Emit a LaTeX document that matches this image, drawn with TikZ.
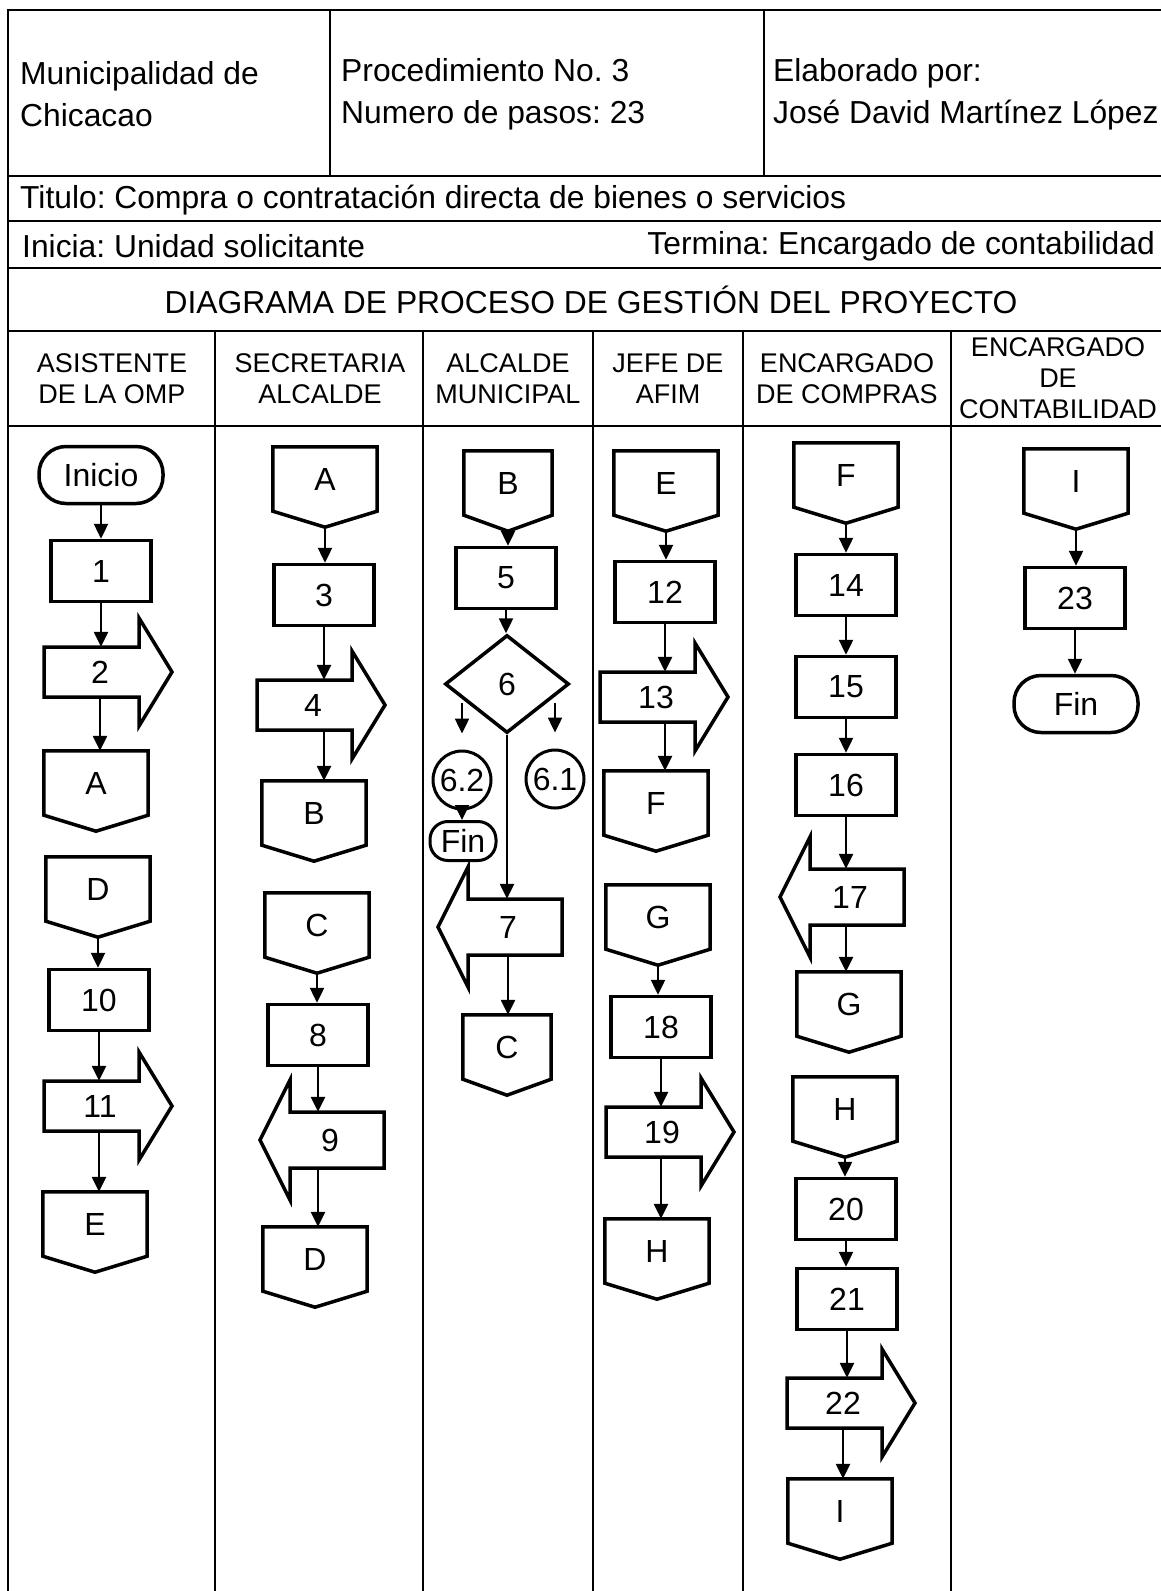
\documentclass[tikz,border=0pt]{standalone}
\usepackage{fontspec}
\setmainfont{Liberation Sans}
\usepackage{tikz}
\usetikzlibrary{arrows.meta}
\usetikzlibrary{shapes.geometric}
\frenchspacing
\def\conh{64}
\def\conp{16}
\def\fnt{\fontsize{32}{38}\selectfont}

% conector fuera de pagina: [ancho] nombre, x, y superior, letra
\newcommand{\conector}[5][104pt]{%
  \node[conbox, minimum width=#1] (#2) at (#3,{#4+\conh/2}) {#5};
  \draw[forma] (#2.north west) -- (#2.north east) -- (#2.south east)
    -- ([yshift=-\conp pt]#2.south) -- (#2.south west) -- cycle;
  \coordinate (#2-p) at ([yshift=-\conp pt]#2.south);
}
% flecha de bloque a la derecha: nombre, x, y, texto
\newcommand{\flechader}[4]{%
  \draw[forma] ({#2-56},{#3-25}) -- ({#2+39},{#3-25}) -- ({#2+39},{#3-54})
    -- ({#2+72},#3) -- ({#2+39},{#3+54}) -- ({#2+39},{#3+25})
    -- ({#2-56},{#3+25}) -- cycle;
  \node[cuerpo] (#1) at (#2,#3) {#4};
}
% flecha de bloque a la izquierda
\newcommand{\flechaizq}[4]{%
  \draw[forma] ({#2+54},{#3-28}) -- ({#2-40},{#3-28}) -- ({#2-40},{#3-60})
    -- ({#2-70},#3) -- ({#2-40},{#3+60}) -- ({#2-40},{#3+28})
    -- ({#2+54},{#3+28}) -- cycle;
  \node[cuerpoizq] (#1) at (#2,#3) {#4};
}

\begin{document}
\begin{tikzpicture}[x=1pt, y=-1pt,
    tabla/.style={line width=2.6pt},
    forma/.style={draw, line width=3.5pt, line join=miter},
    flujo/.style={line width=2.4pt, -{Triangle[length=15pt,width=14pt]}},
    paso/.style={draw, line width=3.5pt, minimum width=100pt, minimum height=61pt, inner sep=0pt, font=\fnt},
    terminal/.style={paso, rounded corners=27pt, minimum width=124pt, minimum height=57pt},
    conbox/.style={minimum height=\conh pt, inner sep=0pt, font=\fnt},
    cuerpo/.style={minimum width=80pt, minimum height=50pt, inner sep=0pt, font=\fnt},
    cuerpoizq/.style={cuerpo, minimum height=56pt},
    decision/.style={diamond, draw, line width=3.5pt, minimum width=124pt, minimum height=98pt, inner sep=0pt, font=\fnt},
    circulo/.style={circle, draw, line width=3pt, minimum size=58pt, inner sep=0pt, font=\fnt},
    finchico/.style={draw, line width=3pt, rounded corners=18pt, minimum width=66pt, minimum height=39pt, inner sep=0pt, font=\fnt},
    encabezado/.style={anchor=west, align=left, inner sep=0pt, font=\fontsize{31.8}{42}\selectfont},
    columna/.style={align=center, inner sep=0pt, font=\fontsize{27}{31}\selectfont}]
  \useasboundingbox (0,0) rectangle (1161,1591);

  % tabla
  \draw[tabla] (1161,10) -- (8,10) -- (8,1591);
  \draw[tabla] (330,10) -- (330,176);
  \draw[tabla] (764,10) -- (764,176);
  \foreach \y in {176,221,268,331,426}
    \draw[tabla] (8,\y) -- (1161,\y);
  \foreach \x in {215,423,593,743,951}
    \draw[tabla] (\x,331) -- (\x,1591);

  \node[encabezado] (muni) at (20,94) {Municipalidad de\\Chicacao};
  \node[encabezado] (proc) at (341,94) {Procedimiento No. 3\\Numero de pasos: 23};
  \node[encabezado] (elab) at (773,94) {Elaborado por:\\José David Martínez López};
  \node[encabezado] (titulo) at (20,200) {Titulo: Compra o contratación directa de bienes o servicios};
  \node[encabezado] (inicia) at (22,246) {Inicia: Unidad solicitante};
  \node[encabezado, anchor=east] (termina) at (1155,246) {Termina: Encargado de contabilidad};
  \node[encabezado, anchor=center] (diagrama) at (591,300) {DIAGRAMA DE PROCESO DE GESTIÓN DEL PROYECTO};

  \node[columna] (col1) at (112,379) {ASISTENTE\\DE LA OMP};
  \node[columna] (col2) at (320,379) {SECRETARIA\\ALCALDE};
  \node[columna] (col3) at (508,379) {ALCALDE\\MUNICIPAL};
  \node[columna] (col4) at (668,379) {JEFE DE\\AFIM};
  \node[columna] (col5) at (847,379) {ENCARGADO\\DE COMPRAS};
  \node[columna] (col6) at (1058,378) {ENCARGADO\\DE\\CONTABILIDAD};

  % asistente de la OMP
  \node[terminal] (ini) at (101,475) {Inicio};
  \node[paso] (p1) at (101,571) {1};
  \flechader{a2}{100}{672}{2}
  \conector{cA1}{96}{751}{A}
  \conector{cD1}{98}{857}{D}
  \node[paso] (p10) at (99,1000) {10};
  \flechader{a11}{100}{1106}{11}
  \conector{cE1}{95}{1192}{E}
  \draw[flujo] (ini) -- (p1);
  \draw[flujo] (p1) -- (p1 |- a2.north);
  \draw[flujo] (a2.south) -- (a2.south |- cA1.north);
  \draw[flujo] (cD1-p) -- (cD1-p |- p10.north);
  \draw[flujo] (p10) -- (p10 |- a11.north);
  \draw[flujo] (p10 |- a11.south) -- (p10 |- cE1.north);

  % secretaria alcalde
  \conector{cA2}{325}{447}{A}
  \node[paso] (p3) at (324,595) {3};
  \flechader{a4}{313}{705}{4}
  \conector{cB2}{314}{781}{B}
  \conector{cC2}{317}{893}{C}
  \node[paso] (p8) at (318,1035) {8};
  \flechaizq{a9}{330}{1140}{9}
  \conector{cD2}{315}{1227}{D}
  \draw[flujo] (cA2-p) -- (cA2-p |- p3.north);
  \draw[flujo] (p3) -- (p3 |- a4.north);
  \draw[flujo] (p3 |- a4.south) -- (p3 |- cB2.north);
  \draw[flujo] (cC2-p) -- (cC2-p |- p8.north);
  \draw[flujo] (p8) -- (p8 |- a9.north);
  \draw[flujo] (p8 |- a9.south) -- (p8 |- cD2.north);

  % alcalde municipal
  \conector[88pt]{cB3}{508}{451}{B}
  \node[paso] (p5) at (506,578) {5};
  \node[decision] (d6) at (507,684) {6};
  \node[circulo] (c62) at (462,780) {6.2};
  \node[circulo] (c61) at (555,779) {6.1};
  \node[finchico] (f62) at (463,841) {Fin};
  \flechaizq{a7}{508}{927}{7}
  \conector[88pt]{cC3}{507}{1015}{C}
  \coordinate (d6-l) at (462,703);
  \coordinate (d6-r) at (555,703);
  \draw[flujo] (cB3-p) -- (cB3-p |- p5.north);
  \draw[flujo] (p5) -- (p5 |- d6.north);
  \draw[flujo, shorten >=16pt] (d6-l) -- (c62);
  \draw[flujo, shorten >=16pt] (d6-r) -- (c61);
  \draw[flujo] (c62) -- (c62 |- f62.north);
  \draw[flujo] (d6) -- (d6 |- a7.north);
  \draw[flujo] (a7.south) -- (a7.south |- cC3.north);

  % jefe de AFIM
  \conector{cE4}{666}{451}{E}
  \node[paso] (p12) at (665,592) {12};
  \flechader{a13}{656}{697}{13}
  \conector{cF4}{656}{771}{F}
  \conector{cG4}{658}{885}{G}
  \node[paso] (p18) at (661,1027) {18};
  \flechader{a19}{662}{1132}{19}
  \conector{cH4}{657}{1219}{H}
  \draw[flujo] (cE4-p) -- (cE4-p |- p12.north);
  \draw[flujo] (p12) -- (p12 |- a13.north);
  \draw[flujo] (p12 |- a13.south) -- (p12 |- cF4.north);
  \draw[flujo] (cG4-p) -- (cG4-p |- p18.north);
  \draw[flujo] (p18) -- (p18 |- a19.north);
  \draw[flujo] (p18 |- a19.south) -- (p18 |- cH4.north);

  % encargado de compras
  \conector{cF5}{846}{443}{F}
  \node[paso] (p14) at (846,585) {14};
  \node[paso] (p15) at (846,687) {15};
  \node[paso] (p16) at (846,785) {16};
  \flechaizq{a17}{850}{897}{17}
  \conector{cG5}{849}{972}{G}
  \conector{cH5}{845}{1077}{H}
  \node[paso] (p20) at (846,1209) {20};
  \node[paso] (p21) at (847,1299) {21};
  \flechader{a22}{843}{1403}{22}
  \conector{cI5}{840}{1479}{I}
  \draw[flujo] (cF5-p) -- (cF5-p |- p14.north);
  \draw[flujo] (p14) -- (p14 |- p15.north);
  \draw[flujo] (p15) -- (p15 |- p16.north);
  \draw[flujo] (p16) -- (p16 |- a17.north);
  \draw[flujo] (p16 |- a17.south) -- (p16 |- cG5.north);
  \draw[flujo] (cH5-p) -- (cH5-p |- p20.north);
  \draw[flujo] (p20) -- (p20 |- p21.north);
  \draw[flujo] (p21) -- (p21 |- a22.north);
  \draw[flujo] (a22.south) -- (a22.south |- cI5.north);

  % encargado de contabilidad
  \conector{cI6}{1076}{449}{I}
  \node[paso] (p23) at (1075,598) {23};
  \node[terminal] (fin) at (1076,704) {Fin};
  \draw[flujo] (cI6-p) -- (cI6-p |- p23.north);
  \draw[flujo] (p23) -- (p23 |- fin.north);
\end{tikzpicture}
\end{document}
